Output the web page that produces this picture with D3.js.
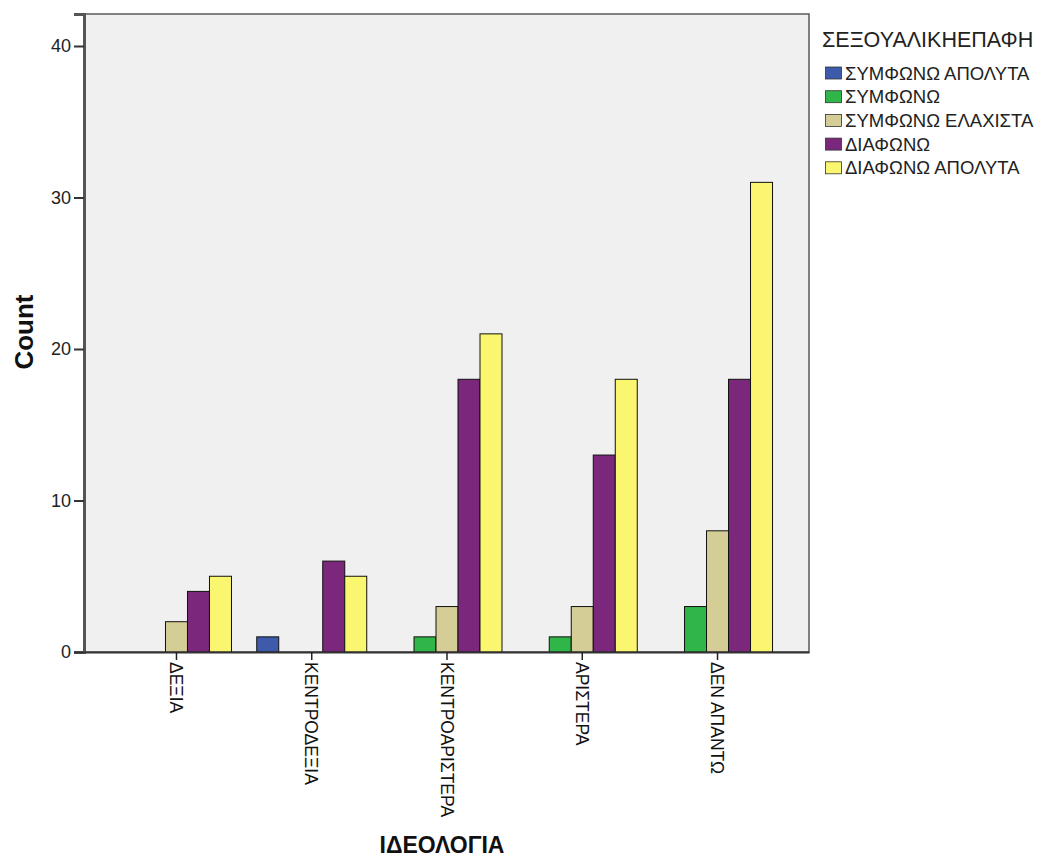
<!DOCTYPE html>
<html><head><meta charset="utf-8">
<script src="https://cdn.jsdelivr.net/npm/d3@7"></script>
<style>body{margin:0;background:#fff}svg{display:block;font-family:Arial,"Liberation Sans",sans-serif}</style>
</head><body><svg id="c" width="1050" height="859"></svg>
<script>
const categories = ["ΔΕΞΙΑ","ΚΕΝΤΡΟΔΕΞΙΑ","ΚΕΝΤΡΟΑΡΙΣΤΕΡΑ","ΑΡΙΣΤΕΡΑ","ΔΕΝ ΑΠΑΝΤΩ"];
const seriesNames = ["ΣΥΜΦΩΝΩ ΑΠΟΛΥΤΑ","ΣΥΜΦΩΝΩ","ΣΥΜΦΩΝΩ ΕΛΑΧΙΣΤΑ","ΔΙΑΦΩΝΩ","ΔΙΑΦΩΝΩ ΑΠΟΛΥΤΑ"];
const symfonoApolyta   = [0,1,0,0,0];
const symfono          = [0,0,1,1,3];
const symfonoElaxista  = [2,0,3,3,8];
const diafono          = [4,6,18,13,18];
const diafonoApolyta   = [5,5,21,18,31];
const yTicks = [0,10,20,30,40];
const colors = ["#3D5AAB","#2FB548","#D4CD95","#7B287C","#FBF66F"];
const legendTitle = "ΣΕΞΟΥΑΛΙΚΗΕΠΑΦΗ";
const xTitle = "ΙΔΕΟΛΟΓΙΑ", yTitle = "Count";

const seriesValues = [symfonoApolyta, symfono, symfonoElaxista, diafono, diafonoApolyta];
const svg = d3.select("#c");
const L=84, R=809, T=14, B=652;
const x = d3.scalePoint().domain(categories).range([L,R]).padding(0.68);
const y = d3.scaleLinear().domain([0, 40*(B-T)/(B-46)]).range([B,T]);
const xs = d3.scaleBand().domain(seriesNames).range([-55,55]).padding(0);

svg.append("rect").attr("x",L).attr("y",T).attr("width",R-L).attr("height",B-T)
  .attr("fill","#F0F0F0").attr("stroke","#5a5a5a").attr("stroke-width",1.5);

const g = svg.append("g");
seriesNames.forEach((s,si)=>{
  g.selectAll(null).data(categories).enter().append("rect")
    .attr("x",(c)=>x(c)+xs(s)+0.5)
    .attr("y",(c,i)=>y(seriesValues[si][i]))
    .attr("width",xs.bandwidth())
    .attr("height",(c,i)=>B-y(seriesValues[si][i]))
    .attr("fill",colors[si]).attr("stroke","#111").attr("stroke-width",1);
});

// y axis
const ya = svg.append("g").attr("transform",`translate(${L},0)`)
  .call(d3.axisLeft(y).tickValues(yTicks).tickSize(10).tickPadding(3));
ya.select(".domain").attr("stroke","#555").attr("stroke-width",3);
ya.selectAll(".tick line").attr("stroke","#333").attr("stroke-width",2);
ya.selectAll(".tick text").attr("font-size",18).attr("fill","#222").attr("font-family","Arial,'Liberation Sans',sans-serif");

// x axis
const xa = svg.append("g").attr("transform",`translate(0,${B})`)
  .call(d3.axisBottom(x).tickSize(8).tickSizeOuter(0));
xa.select(".domain").attr("stroke","#333").attr("stroke-width",2);
xa.selectAll(".tick line").attr("stroke","#222").attr("stroke-width",1.5);
xa.selectAll(".tick text").attr("font-size",17.5).attr("fill","#111")
  .attr("font-family","Arial,'Liberation Sans',sans-serif")
  .attr("transform","rotate(90)").attr("text-anchor","start")
  .attr("x",10).attr("y",0).attr("dy","0.36em");

svg.append("text").attr("transform","translate(33,332) rotate(-90)").attr("text-anchor","middle")
  .attr("font-weight","bold").attr("font-size",26).attr("fill","#111").text(yTitle);
svg.append("text").attr("x",442).attr("y",853).attr("text-anchor","middle")
  .attr("font-weight","bold").attr("font-size",23).attr("fill","#111").text(xTitle);

// legend
const lg = svg.append("g");
lg.append("text").attr("x",822).attr("y",47).attr("font-size",21.5).attr("fill","#222").text(legendTitle);
seriesNames.forEach((s,i)=>{
  const yy = 73 + i*23.7;
  lg.append("rect").attr("x",825.5).attr("y",yy-6).attr("width",16).attr("height",12)
    .attr("fill",colors[i]).attr("stroke","#333").attr("stroke-width",0.8);
  lg.append("text").attr("x",845).attr("y",yy+6.5).attr("font-size",18.5).attr("fill","#222").text(s);
});
</script></body></html>
